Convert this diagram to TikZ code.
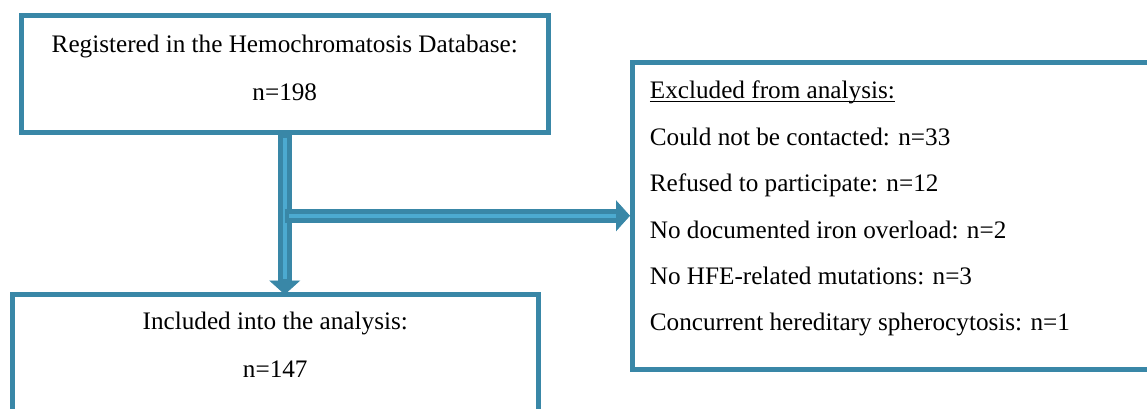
\documentclass[tikz,border=0pt]{standalone}
\usepackage{fontspec}
\setmainfont{Liberation Serif}
\usetikzlibrary{positioning,arrows.meta}
\definecolor{framecol}{RGB}{57,135,167}
\definecolor{shaftcol}{RGB}{76,170,208}
\begin{document}
\begin{tikzpicture}[x=0.5pt,y=-0.5pt,
    flowbox/.style={draw=framecol, line width=2.5pt, inner sep=0pt, minimum width=263.25pt},
    flowtext/.style={inner sep=0pt, font=\fontsize{12.6pt}{24pt}\selectfont},
    listtext/.style={inner sep=0pt, font=\fontsize{12.6pt}{23.2pt}\selectfont},
    thick arrow/.style={draw=framecol, line width=7pt,
      -{Triangle[length=7pt,width=15.5pt,line width=0.4pt]}},
    arrow core/.style={draw=shaftcol, line width=2.2pt}]
      \useasboundingbox (0,0) rectangle (1147,408);
      \clip (0,0) rectangle (1147,408);
      \draw
        (284.75,74) node[flowbox, minimum height=58.5pt] (reg){}
        (275.25,353) node[flowbox, minimum height=58.5pt] (incl){}
        (895.75,215.75) node[flowbox, minimum height=153.75pt] (excl){};
      \node[flowtext, align=center, below=10.9pt of reg.north] (regtext)
        {Registered in the Hemochromatosis Database:\\ n=198};
      \node[flowtext, align=center, below=9.9pt of incl.north] (incltext)
        {Included into the analysis:\\ n=147};
      \node[listtext, align=left, below right=19.5pt and 9.75pt of excl.north west] (excltext)
        {\underline{\smash{Excluded from analysis:}}\\
         Could not be contacted: n=33\\
         Refused to participate: n=12\\
         No documented iron overload: n=2\\
         No HFE-related mutations: n=3\\
         Concurrent hereditary spherocytosis: n=1};
      \coordinate (split) at (reg.south |- excl.west);
      \begin{scope}
        \draw[thick arrow] (reg.south) to ([yshift=-1.25pt]reg.south |- incl.north);
        \draw[arrow core] ([yshift=-1.25pt]reg.south) to ([yshift=6.5pt]reg.south |- incl.north);
        \draw[thick arrow] (split) to (excl.west);
        \draw[arrow core] ([xshift=2pt]split) to ([xshift=-7pt]excl.west);
      \end{scope}
    \end{tikzpicture}
\end{document}
